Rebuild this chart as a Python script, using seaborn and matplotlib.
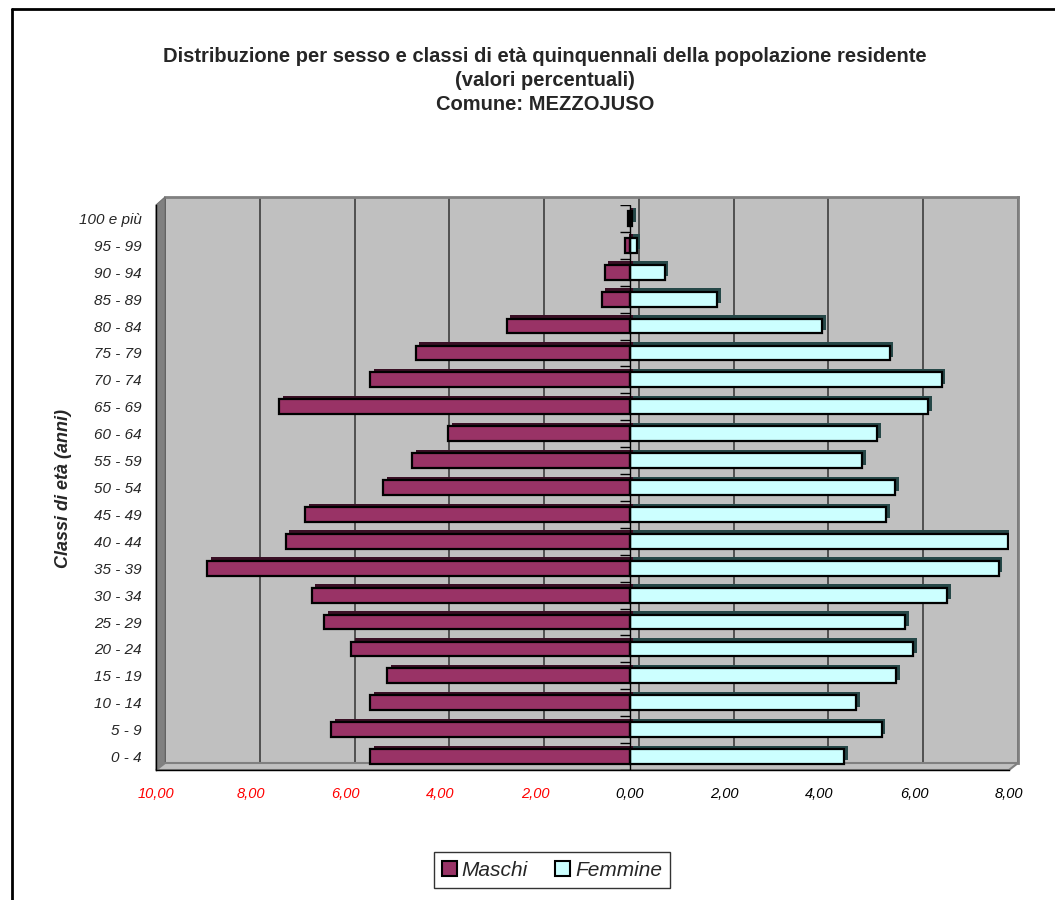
import matplotlib
matplotlib.use("Agg")
import matplotlib.pyplot as plt
import matplotlib.patheffects as pe
from matplotlib.patches import Polygon, Patch
from matplotlib.lines import Line2D
import seaborn as sns
import pandas as pd

# ---------------- data ----------------
classi = ["0 - 4", "5 - 9", "10 - 14", "15 - 19", "20 - 24", "25 - 29", "30 - 34",
          "35 - 39", "40 - 44", "45 - 49", "50 - 54", "55 - 59", "60 - 64", "65 - 69",
          "70 - 74", "75 - 79", "80 - 84", "85 - 89", "90 - 94", "95 - 99", "100 e più"]
maschi = [5.48, 6.30, 5.48, 5.12, 5.88, 6.45, 6.71, 8.92, 7.26, 6.85, 5.20, 4.59, 3.83,
          7.40, 5.48, 4.52, 2.60, 0.59, 0.53, 0.10, 0.05]
femmine = [4.52, 5.31, 4.78, 5.62, 5.98, 5.81, 6.70, 7.78, 7.97, 5.41, 5.60, 4.90, 5.22,
           6.30, 6.58, 5.48, 4.06, 1.84, 0.74, 0.15, 0.05]
xticks = [-10, -8, -6, -4, -2, 0, 2, 4, 6, 8]
xticklabels = ["10,00", "8,00", "6,00", "4,00", "2,00", "0,00", "2,00", "4,00", "6,00", "8,00"]
titolo = ["Distribuzione per sesso e classi di età quinquennali della popolazione residente",
          "(valori percentuali)", "Comune: MEZZOJUSO"]
legenda = ["Maschi", "Femmine"]

df = pd.DataFrame({"classe": classi, "maschi": [-v for v in maschi], "femmine": femmine})

# ---------------- style ----------------
sns.set_style("white")
plt.rcParams["font.family"] = ["Liberation Sans", "DejaVu Sans"]

W, H = 1055, 900
fig = plt.figure(figsize=(W / 100, H / 100), dpi=100)
fig.patch.set_facecolor("white")


def fx(px):
    return px / W


def fy(py):
    return 1 - py / H


C_M = "#993366"
C_F = "#CCFFFF"

# back wall
bl, br, bt, bb = 165, 1018, 197, 763
ax_back = fig.add_axes([fx(bl), fy(bb), fx(br - bl), (bb - bt) / H])
ax_back.set_facecolor("#C0C0C0")
ax_back.set_xlim(-10, 8)
ax_back.set_ylim(0, 1)
ax_back.set_xticks(xticks)
ax_back.set_yticks([])
ax_back.tick_params(axis="x", length=0, labelbottom=False)
ax_back.grid(axis="x", color="#333333", linewidth=1.1)
for s in ["left", "bottom"]:
    ax_back.spines[s].set_visible(False)
for s in ["top", "right"]:
    ax_back.spines[s].set_color("#808080")
    ax_back.spines[s].set_linewidth(2)
ax_back.set_zorder(0)

# front plane
fl, fr, ft, fb = 156, 1009, 205, 770
left_wall = Polygon([(fx(fl), fy(fb)), (fx(bl), fy(bb)), (fx(bl), fy(bt)), (fx(fl), fy(ft))],
                    closed=True, facecolor="#808080", edgecolor="#707070", lw=0.8,
                    transform=fig.transFigure, zorder=1)
floor = Polygon([(fx(fl), fy(fb)), (fx(fr), fy(fb)), (fx(br), fy(bb)), (fx(bl), fy(bb))],
                closed=True, facecolor="#C0C0C0", edgecolor="#808080", lw=1.5,
                transform=fig.transFigure, zorder=1)
fig.add_artist(left_wall)
fig.add_artist(floor)

ax = fig.add_axes([fx(fl), fy(fb), fx(fr - fl), (fb - ft) / H])
ax.set_zorder(2)
ax.patch.set_alpha(0)
order = classi[::-1]

sns.barplot(data=df, x="maschi", y="classe", order=order, color=C_M, saturation=1,
            width=0.55, edgecolor="black", linewidth=1.6, ax=ax)
n_m = len(ax.patches)
sns.barplot(data=df, x="femmine", y="classe", order=order, color=C_F, saturation=1,
            width=0.55, edgecolor="black", linewidth=1.6, ax=ax)
for i, p in enumerate(ax.patches):
    dark = "#3a0f25" if i < n_m else "#264848"
    p.set_path_effects([pe.SimplePatchShadow(offset=(2.5, 2.5), shadow_rgbFace=dark, alpha=1),
                        pe.Normal()])

n = len(classi)
ax.set_xlim(-10, 8)
ax.set_ylim(n - 0.5, -0.5)

# zero axis with small ticks
ax.axvline(0, color="black", lw=1, zorder=5)
ax.hlines([k + 0.5 for k in range(-1, n)], -0.2, 0, color="black", lw=1, zorder=5)

ax.set_xticks(xticks)
ax.set_xticklabels(xticklabels, fontstyle="italic", fontsize=10.5)
for lab, v in zip(ax.get_xticklabels(), xticks):
    lab.set_color("#FF0000" if v < 0 else "black")
ax.tick_params(axis="x", direction="out", length=9, width=1, color="#555555", pad=3)

ax.set_yticks(range(n))
ax.set_yticklabels(order, fontstyle="italic", fontsize=11)
ax.set_yticks([k + 0.5 for k in range(-1, n)], minor=True)
ax.tick_params(axis="y", which="major", length=0, pad=10)
ax.tick_params(axis="y", which="minor", direction="out", length=7, width=1, color="black")
ax.set_xlabel("")
ax.set_ylabel("")
ax.grid(False)
for s in ["top", "right"]:
    ax.spines[s].set_visible(False)
for s in ["left", "bottom"]:
    ax.spines[s].set_visible(True)
    ax.spines[s].set_color("black")
    ax.spines[s].set_linewidth(1)

# axis title
fig.text(fx(64), fy(489), "Classi di età (anni)", rotation=90, ha="center", va="center",
         fontsize=13, fontweight="bold", fontstyle="italic")

# title
for t, py in zip(titolo, [56, 80, 104]):
    fig.text(fx(545), fy(py), t, ha="center", va="center", fontsize=14.5, fontweight="bold")

# legend
handles = [Patch(facecolor=C_M, edgecolor="black", lw=1.5),
           Patch(facecolor=C_F, edgecolor="black", lw=1.5)]
leg = fig.legend(handles, legenda, loc="center", bbox_to_anchor=(fx(552), fy(870)),
                 ncol=2, frameon=True, fancybox=False, edgecolor="black",
                 prop={"style": "italic", "size": 15}, handlelength=0.7, handleheight=0.7,
                 handletextpad=0.25, columnspacing=1.3, borderpad=0.4)
leg.get_frame().set_linewidth(1)

# chart border
fig.add_artist(Line2D([fx(12), fx(12)], [fy(9), 0], color="black", lw=2,
                      transform=fig.transFigure))
fig.add_artist(Line2D([fx(12), 1], [fy(9), fy(9)], color="black", lw=2,
                      transform=fig.transFigure))

fig.savefig("out.png", dpi=100)
